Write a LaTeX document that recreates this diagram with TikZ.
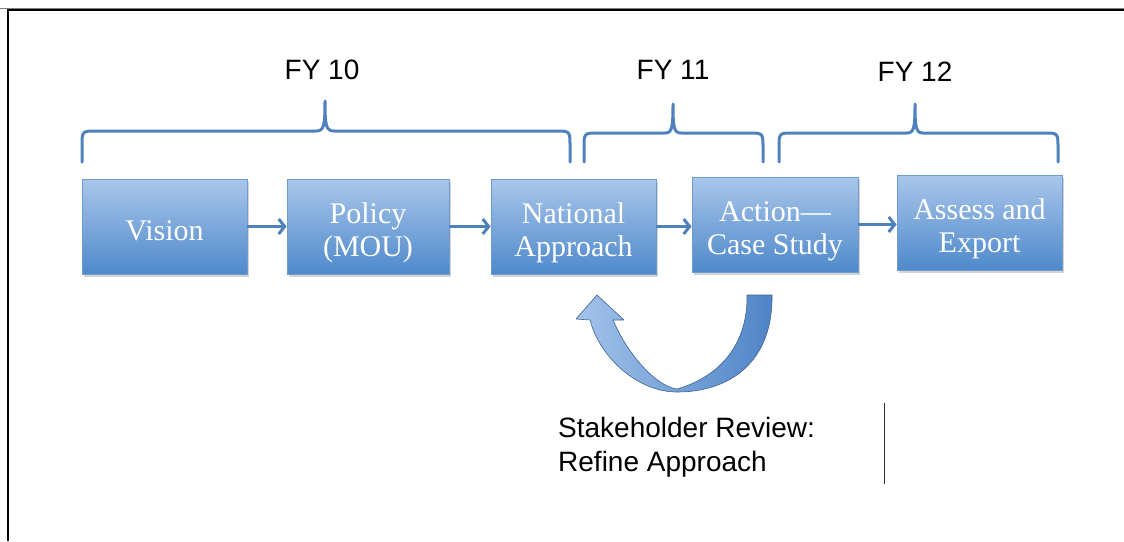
\documentclass[tikz,border=0pt]{standalone}
\usepackage{fontspec}
\setmainfont{Liberation Serif}
\newfontfamily\arialf{Liberation Sans}
\usetikzlibrary{arrows.meta,shadows}
\definecolor{boxtop}{HTML}{A9C6EA}
\definecolor{boxbot}{HTML}{4E89CB}
\definecolor{boxline}{HTML}{6F9BD0}
\definecolor{arrowblue}{HTML}{4F81BD}
\definecolor{ribl}{HTML}{A3C3EA}
\definecolor{ribr}{HTML}{4F84C6}
\tikzset{
  stagebox/.style={rectangle, minimum width=165pt, minimum height=95pt, inner sep=0pt,
    top color=boxtop, bottom color=boxbot, draw=boxline, line width=0.8pt,
    text=white, align=center, font=\fontsize{30}{33}\selectfont,
    drop shadow={shadow xshift=1.5pt, shadow yshift=-2.5pt, opacity=0.35}},
  flow/.style={draw=arrowblue, line width=3pt, -{Straight Barb[length=6pt,width=15pt,line width=3pt]}},
  bracel/.style={draw=arrowblue, line width=3pt, line cap=round, line join=round},
  fylabel/.style={font=\arialf\fontsize{28}{34}\selectfont, inner sep=0pt},
  notelabel/.style={font=\arialf\fontsize{28}{34}\selectfont, inner sep=0pt, anchor=base west}
}
\newcommand{\shiftdown}[1]{\raisebox{-13.5pt}[0pt][0pt]{\begin{tabular}{@{}c@{}}#1\end{tabular}}}
\begin{document}
\begin{tikzpicture}[x=1pt,y=-1pt]
\useasboundingbox (0,0) rectangle (1124,541);
% frame
\draw[gray, line width=1pt] (0,8.5) -- (1124,8.5);
\draw[black, line width=1.6pt] (7,10) -- (1124,10);
\draw[black, line width=2.2pt] (8,10) -- (8,541);

% boxes
\node[stagebox] (vision) at (164.5,226.5) {\shiftdown{Vision}};
\node[stagebox, minimum width=162pt] (policy) at (368,226.5) {\shiftdown{Policy\\(MOU)}};
\node[stagebox] (national) at (573.5,226.5) {\shiftdown{National\\Approach}};
\node[stagebox, minimum width=166pt] (action) at (775,224.5) {\shiftdown{Action---\\Case Study}};
\node[stagebox] (assess) at (979.5,222.5) {\shiftdown{Assess and\\Export}};

% flow arrows
\draw[flow] (vision.east) -- (vision.east -| policy.west);
\draw[flow] (policy.east) -- (policy.east -| national.west);
\draw[flow] (national.east) -- (national.east -| action.west);
\draw[flow] (action.east) -- (action.east -| assess.west);

% braces
\draw[bracel] (82,162) -- (82,146) .. controls (82,131) .. (97,131) -- (316,131)
  .. controls (324,131) and (325,126) .. (325,101)
  .. controls (325,126) and (326,131) .. (334,131) -- (555,131)
  .. controls (570,131) .. (570,146) -- (570,162);
\draw[bracel] (584,162) -- (584,148) .. controls (584,133) .. (598,133) -- (665,133)
  .. controls (672,133) and (673,128) .. (673,104)
  .. controls (673,128) and (674,133) .. (681,133) -- (749,133)
  .. controls (763,133) .. (763,148) -- (763,162);
\draw[bracel] (779,162) -- (779,148) .. controls (779,133) .. (793,133) -- (907,133)
  .. controls (914,133) and (915,128) .. (915,104)
  .. controls (915,128) and (916,133) .. (923,133) -- (1044,133)
  .. controls (1058,133) .. (1058,148) -- (1058,162);

% brace labels
\node[fylabel] (fy10) at (322,70) {FY 10};
\node[fylabel] (fy11) at (673,70) {FY 11};
\node[fylabel] (fy12) at (915,72) {FY 12};

% curved feedback arrow
\path[left color=ribl, right color=ribr, draw=ribr!75!black, line width=0.6pt, line join=round]
  (772,295) .. controls (773,362) and (730,392) .. (677,392)
  .. controls (638,392) and (600,358) .. (590,320)
  -- (576,319) -- (597,295) -- (624,320) -- (613,320)
  .. controls (627,353) and (655,386) .. (677,389)
  .. controls (722,376) and (748,342) .. (747,295) -- cycle;

% note
\node[notelabel] (note) at (558,437) {\begin{tabular}[t]{@{}l@{}}Stakeholder Review:\\Refine Approach\end{tabular}};
\coordinate (vt) at (884,403);
\coordinate (vb) at (884,484);
\draw[black!80, line width=1pt] (vt) -- (vb);
\end{tikzpicture}
\end{document}
